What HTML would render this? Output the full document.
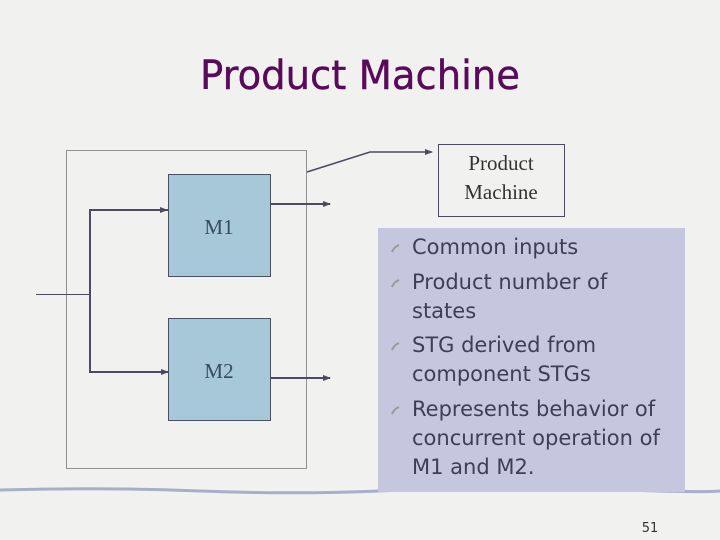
<!DOCTYPE html>
<html><head><meta charset="utf-8"><style>
html,body{margin:0;padding:0;background:#f1f1f0;}
svg{display:block}
</style></head><body>
<svg width="720" height="540" viewBox="0 0 720 540" xmlns="http://www.w3.org/2000/svg">
<defs>
<marker id="a" markerWidth="8" markerHeight="8" refX="7" refY="4" orient="auto" markerUnits="userSpaceOnUse">
<path d="M0,1 L8,4 L0,7 z" fill="#4a4a60"/></marker>
</defs>
<rect width="720" height="540" fill="#f1f1f0"/>
<text x="360" y="89" text-anchor="middle" font-family="DejaVu Sans, sans-serif" font-size="40" fill="#5a0a5a" stroke="#5a0a5a" stroke-width="0.4" textLength="320" lengthAdjust="spacingAndGlyphs">Product Machine</text>
<rect x="66.5" y="150.5" width="240" height="318" fill="none" stroke="#333" stroke-dasharray="1,1"/>
<rect x="168.5" y="174.5" width="102" height="102" fill="#a6c8d8" stroke="#4a5060"/>
<rect x="168.5" y="318.5" width="102" height="102" fill="#a6c8d8" stroke="#4a5060"/>
<text x="219" y="234" text-anchor="middle" font-family="Liberation Serif, serif" font-size="21" fill="#3a4a60">M1</text>
<text x="219" y="378" text-anchor="middle" font-family="Liberation Serif, serif" font-size="21" fill="#3a4a60">M2</text>
<g stroke="#4a4a60" stroke-width="2" fill="none">
<line x1="36" y1="294.5" x2="90" y2="294.5" stroke-width="1"/>
<polyline points="168,210 90,210 90,372 168,372" marker-end="url(#a)"/>
<line x1="90" y1="210" x2="167" y2="210" marker-end="url(#a)"/>
<line x1="270" y1="204" x2="330" y2="204" marker-end="url(#a)"/>
<line x1="270" y1="378" x2="330" y2="378" marker-end="url(#a)"/>
<polyline points="307,172 370,152 432,152" stroke-width="1.5" marker-end="url(#a)"/>
</g>
<rect x="438.5" y="144.5" width="126" height="72" fill="none" stroke="#4a4a60"/>
<text x="501" y="170" text-anchor="middle" font-family="Liberation Serif, serif" font-size="21" fill="#333">Product</text>
<text x="501" y="199" text-anchor="middle" font-family="Liberation Serif, serif" font-size="21" fill="#333">Machine</text>
<path d="M0,490 Q100,487 200,491 T400,490 T600,489 T720,491" stroke="#a9aec8" stroke-width="3" fill="none"/>
<rect x="378" y="228" width="307" height="264" fill="#c6c6de"/>
<g font-family="DejaVu Sans, sans-serif" font-size="21" fill="#3e3e58">
<text x="412" y="254">Common inputs</text>
<text x="412" y="289">Product number of</text>
<text x="412" y="318">states</text>
<text x="412" y="352">STG derived from</text>
<text x="412" y="381">component STGs</text>
<text x="412" y="416">Represents behavior of</text>
<text x="412" y="445">concurrent operation of</text>
<text x="412" y="474">M1 and M2.</text>
</g>
<g stroke="#9a9a9a" stroke-width="2" fill="none">
<path d="M392,252 q2,-5 7,-7"/><path d="M392,287 q2,-5 7,-7"/><path d="M392,350 q2,-5 7,-7"/><path d="M392,414 q2,-5 7,-7"/>
</g>
<text x="650" y="532" text-anchor="middle" font-family="DejaVu Sans, sans-serif" font-size="13" fill="#333">51</text>
</svg>
</body></html>
